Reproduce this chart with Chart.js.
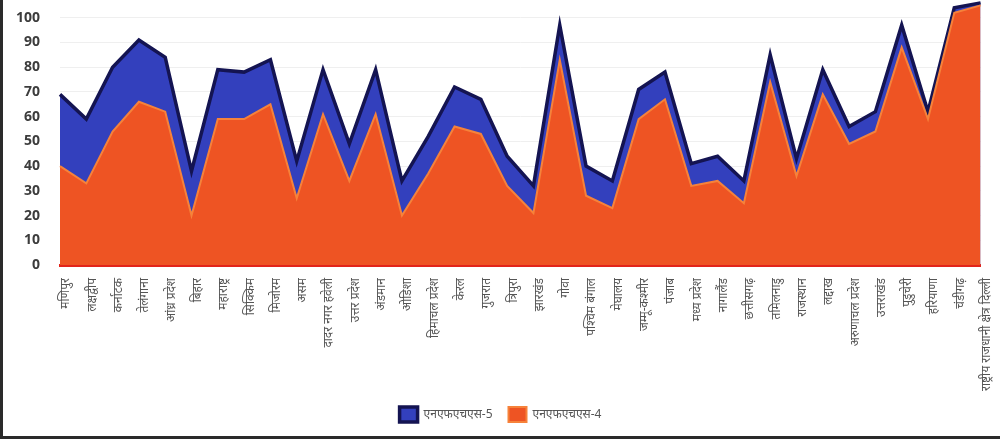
<!DOCTYPE html>
<html>
<head>
<meta charset="utf-8">
<script src="https://cdn.jsdelivr.net/npm/chart.js@4.4.1/dist/chart.umd.min.js"></script>
<style>
  html, body { margin: 0; padding: 0; background: #fff; }
  #frame { position: relative; width: 1000px; height: 443px; overflow: hidden; background: #fff; }
  #frame .edge-left { position: absolute; left: 0; top: 0; width: 3px; height: 439px; background: #2a2a2a; }
  #frame .edge-bottom { position: absolute; left: 0; top: 436px; width: 1000px; height: 3px; background: #2a2a2a; }
  #chart { position: absolute; left: 3px; top: -28px; }
</style>
</head>
<body>
<div id="frame">
  <canvas id="chart" width="997" height="460"></canvas>
  <div class="edge-left"></div>
  <div class="edge-bottom"></div>
</div>
<script>
// राज्य / केंद्र शासित प्रदेश
const states = [
  'मणिपुर', 'लक्षद्वीप', 'कर्नाटक', 'तेलंगाना', 'आंध्र प्रदेश', 'बिहार',
  'महाराष्ट्र', 'सिक्किम', 'मिजोरम', 'असम', 'दादर नगर हवेली', 'उत्तर प्रदेश',
  'अंडमान', 'ओडिशा', 'हिमाचल प्रदेश', 'केरल', 'गुजरात', 'त्रिपुरा',
  'झारखंड', 'गोवा', 'पश्चिम बंगाल', 'मेघालय', 'जम्मू-कश्मीर', 'पंजाब',
  'मध्य प्रदेश', 'नागालैंड', 'छत्तीसगढ़', 'तमिलनाडु', 'राजस्थान', 'लद्दाख',
  'अरुणाचल प्रदेश', 'उत्तराखंड', 'पुडुचेरी', 'हरियाणा', 'चंडीगढ़',
  'राष्ट्रीय राजधानी क्षेत्र दिल्ली'
];

// एनएफएचएस-5
const nfhs5 = [69, 59, 80, 91, 84, 38, 79, 78, 83, 42, 79, 49, 79, 34, 52, 72, 67, 44,
               32, 97, 40, 34, 71, 78, 41, 44, 34, 85, 43, 79, 56, 62, 97, 62, 104, 106];

// एनएफएचएस-4
const nfhs4 = [40, 33, 54, 66, 62, 20, 59, 59, 65, 27, 61, 34, 61, 20, 37, 56, 53, 32,
               21, 83, 28, 23, 59, 67, 32, 34, 25, 74, 36, 69, 49, 54, 88, 59, 102, 105];

const yMin = 0;
const yMax = 107;
const yStep = 10;
const yLastTick = 100;

new Chart(document.getElementById('chart'), {
  type: 'line',
  data: {
    labels: states,
    datasets: [
      {
        label: 'एनएफएचएस-5',
        data: nfhs5,
        order: 2,
        fill: 'origin',
        backgroundColor: '#3340bd',
        borderColor: '#141452',
        borderWidth: 3.5,
        pointRadius: 0,
        tension: 0
      },
      {
        label: 'एनएफएचएस-4',
        data: nfhs4,
        order: 1,
        fill: 'origin',
        backgroundColor: '#ee5423',
        borderColor: '#f6823a',
        borderWidth: 2,
        pointRadius: 0,
        tension: 0
      }
    ]
  },
  options: {
    responsive: false,
    animation: false,
    layout: { padding: { left: 0, right: 2, top: 0, bottom: 0 } },
    plugins: {
      tooltip: { enabled: false },
      legend: {
        position: 'bottom',
        reverse: true,
        labels: {
          boxWidth: 18,
          boxHeight: 15,
          padding: 16,
          color: '#555',
          font: { family: 'Noto Sans', size: 12 }
        }
      }
    },
    scales: {
      x: {
        afterFit: (s) => { s.height = 126; },
        ticks: {
          autoSkip: false,
          minRotation: 90,
          maxRotation: 90,
          padding: 5,
          labelOffset: 6,
          color: '#555',
          font: { family: 'Noto Sans', size: 12 }
        },
        grid: { display: false },
        border: { display: true, color: '#e2241a', width: 3 }
      },
      y: {
        min: yMin,
        max: yMax,
        afterBuildTicks: (s) => { s.ticks = s.ticks.filter(t => t.value <= yLastTick); },
        afterFit: (s) => { s.width = 57; },
        ticks: {
          stepSize: yStep,
          padding: 20,
          color: '#3c3c3c',
          font: { family: 'Open Sans', size: 14, weight: 'bold' }
        },
        grid: { color: '#efefef', drawTicks: false },
        border: { display: false }
      }
    }
  }
});
</script>
</body>
</html>
